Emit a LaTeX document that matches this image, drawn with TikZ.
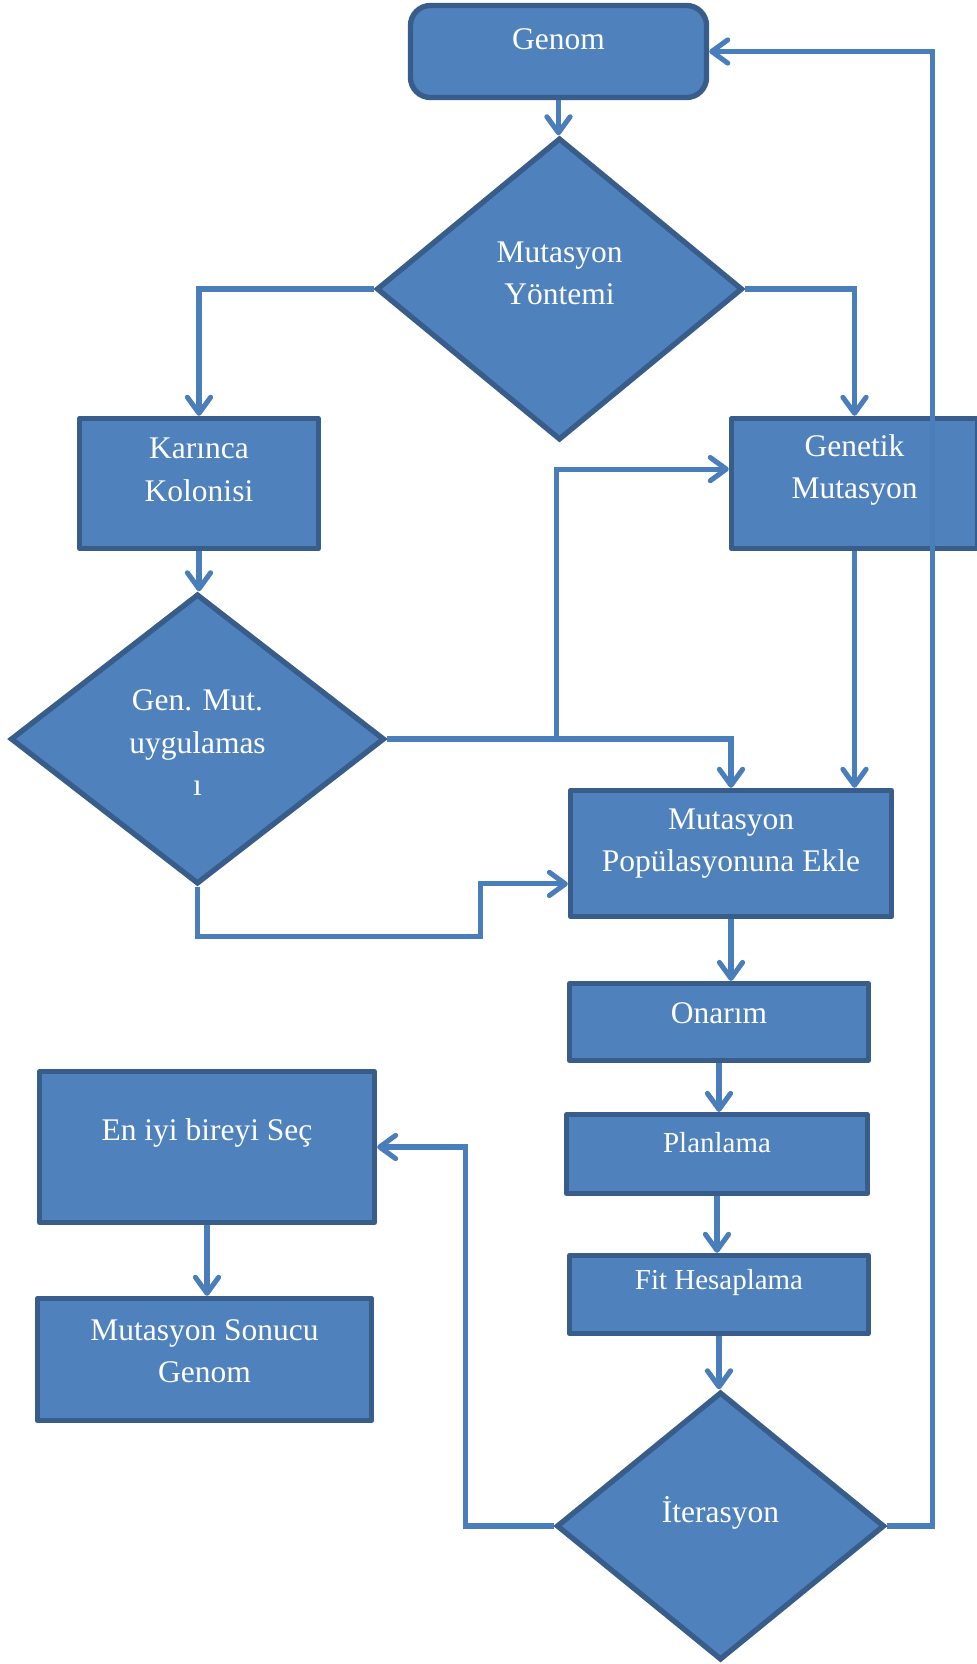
\documentclass[tikz,border=0pt]{standalone}
\usepackage{fontspec}
\setmainfont{Liberation Serif}
\usetikzlibrary{shapes.geometric,arrows.meta}
\definecolor{boxfill}{HTML}{4F81BD}
\definecolor{boxline}{HTML}{385D8A}
\definecolor{arrowline}{HTML}{4A7EBB}

\begin{document}
\begin{tikzpicture}[x=0.025cm,y=-0.025cm,
  box/.style={draw=boxline,fill=boxfill,line width=3.8pt,inner sep=0pt},
  blok/.style={box,rectangle,line join=round},
  karar/.style={box,diamond},
  txt/.style={text=white,align=center,font=\fontsize{22.4}{30}\selectfont},
  kucuktxt/.style={txt,font=\fontsize{20.6}{28}\selectfont},
  conn/.style={draw=arrowline,line width=3.6pt,-{Straight Barb[length=0.4cm,width=0.58cm,round]}}]
\useasboundingbox (0,0) rectangle (976,1664);

% top
\node[blok,rounded corners=0.5cm,minimum width=7.4cm,minimum height=2.3cm,
  label={[txt,yshift=0.31cm]center:Genom}] (genom) at (558.5,51.5) {};
\node[karar,minimum width=9.15cm,minimum height=7.55cm,
  label={[txt,yshift=0.39cm]center:Mutasyon\\Yöntemi}] (yontem) at (559.5,289) {};

% two methods
\node[blok,minimum width=5.97cm,minimum height=3.25cm,
  label={[txt,yshift=0.34cm]center:Karınca\\Kolonisi}] (karinca) at (199,483.5) {};
\node[blok,minimum width=6.15cm,minimum height=3.25cm,
  label={[txt,yshift=0.34cm]center:Genetik\\Mutasyon}] (genetik) at (854.5,483.5) {};
\node[karar,minimum width=9.35cm,minimum height=7.25cm,
  label={[txt,yshift=-0.09cm]center:Gen. Mut.\\uygulamas\\ı}] (genmut) at (197.5,739) {};

% main column
\node[blok,minimum width=8.02cm,minimum height=3.15cm,
  label={[txt,yshift=0.25cm]center:Mutasyon\\Popülasyonuna Ekle}] (mpop) at (731,853.5) {};
\node[blok,minimum width=7.47cm,minimum height=1.92cm,
  label={[txt,yshift=0.23cm]center:Onarım}] (onarim) at (719,1022) {};
\node[blok,minimum width=7.52cm,minimum height=1.97cm,
  label={[kucuktxt,yshift=0.28cm]center:Planlama}] (planlama) at (717,1154) {};
\node[blok,minimum width=7.47cm,minimum height=1.95cm,
  label={[kucuktxt,yshift=0.29cm]center:Fit Hesaplama}] (fit) at (719,1294.5) {};
\node[karar,minimum width=8.2cm,minimum height=6.7cm,
  label={[txt,yshift=0.33cm]center:İterasyon}] (iter) at (720.5,1526) {};

% result
\node[blok,minimum width=8.37cm,minimum height=3.77cm,
  label={[txt,yshift=0.35cm]center:En iyi bireyi Seç}] (eniyi) at (207,1147) {};
\node[blok,minimum width=8.35cm,minimum height=3.05cm,
  label={[txt,yshift=0.21cm]center:Mutasyon Sonucu\\Genom}] (sonuc) at (204.5,1359.5) {};

% arrows
\draw[conn] (genom.south) -- (genom.south |- yontem.north);
\draw[conn] (yontem.west) -| (karinca.north);
\draw[conn] (yontem.east) -| (genetik.north);
\draw[conn] (karinca.south) -- (karinca.south |- genmut.north);
\draw[conn] (genmut.east) -- ++(169,0) |- ([yshift=0.36cm]genetik.west);
\draw[conn] (genmut.east) -| (mpop.north);
\draw[conn] (genetik.south) -- (genetik.south |- mpop.north);
\draw[conn] (genmut.south) -- ++(0,50) -- ++(283,0) |- ([yshift=-0.76cm]mpop.west);
\draw[conn] (mpop.south) -- (mpop.south |- onarim.north);
\draw[conn] (onarim.south) -- (onarim.south |- planlama.north);
\draw[conn] (planlama.south) -- (planlama.south |- fit.north);
\draw[conn] (fit.south) -- (fit.south |- iter.north);
\draw[conn] (iter.west) -- ++(-88,0) |- (eniyi.east);
\draw[conn] (eniyi.south) -- (eniyi.south |- sonuc.north);
\draw[conn] (iter.east) -- ++(45,0) |- (genom.east);
\end{tikzpicture}
\end{document}
